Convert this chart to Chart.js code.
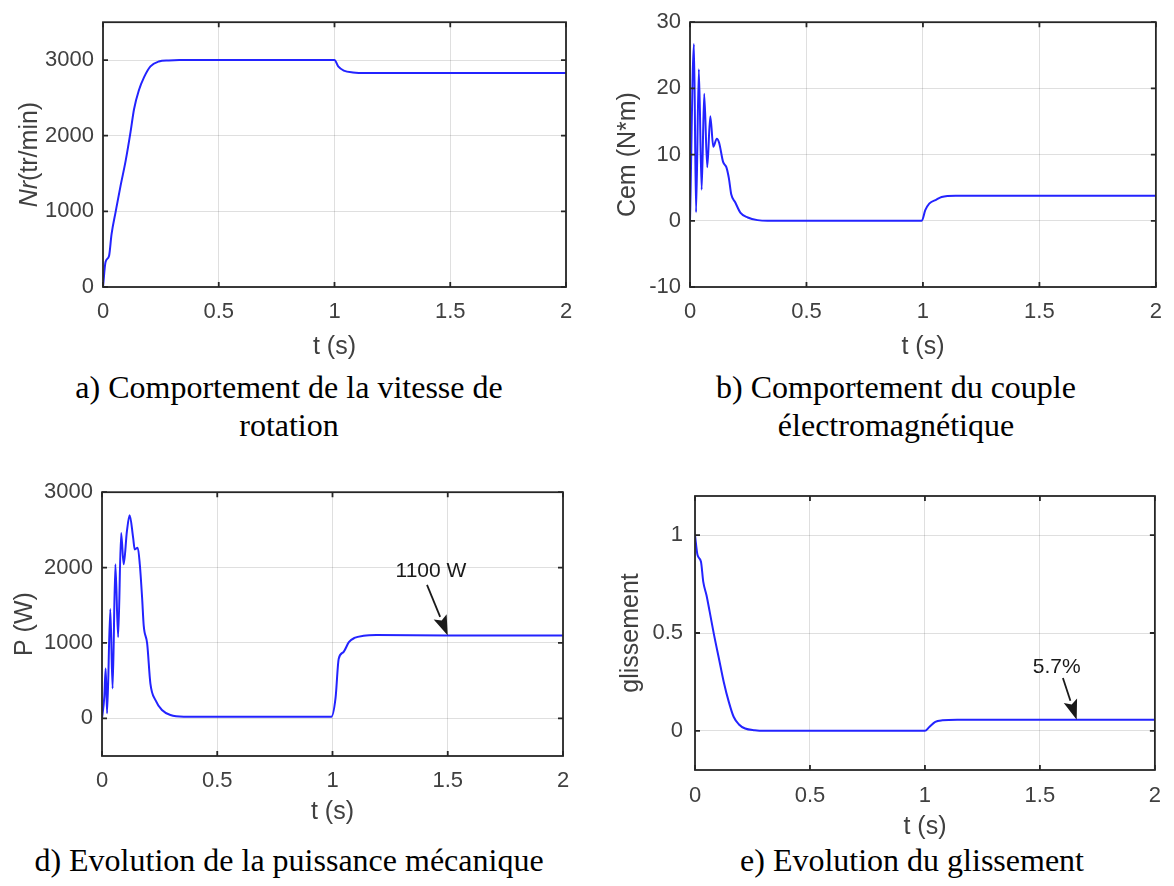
<!DOCTYPE html>
<html>
<head>
<meta charset="utf-8">
<script src="https://cdn.jsdelivr.net/npm/chart.js@4/dist/chart.umd.min.js"></script>
<style>
  body { margin: 0; background: #fff; }
  #page { position: relative; width: 1174px; height: 886px; background: #fff; overflow: hidden; }
  canvas { position: absolute; }
  .cap { position: absolute; font-family: "Liberation Serif", "Times New Roman", serif; font-size: 32px;
         line-height: 38px; color: #000; text-align: center; white-space: nowrap; transform: translateX(-50%); }
</style>
</head>
<body>
<div id="page">
  <canvas id="speedChart" width="587" height="365" style="left:0;top:0"></canvas>
  <canvas id="torqueChart" width="587" height="365" style="left:587px;top:0"></canvas>
  <canvas id="powerChart" width="587" height="360" style="left:0;top:470px"></canvas>
  <canvas id="slipChart" width="587" height="370" style="left:587px;top:470px"></canvas>

  <div class="cap" style="left:289px;top:368px">a) Comportement de la vitesse de<br>rotation</div>
  <div class="cap" style="left:896px;top:368px">b) Comportement du couple<br>électromagnétique</div>
  <div class="cap" style="left:289px;top:841px">d) Evolution de la puissance mécanique</div>
  <div class="cap" style="left:912px;top:841px">e) Evolution du glissement</div>
</div>
<script>
// shared time axis
const timeTicks = [0, 0.5, 1, 1.5, 2];

// a) rotor speed (tr/min)
const speedT = [0, 0.011, 0.026, 0.037, 0.055, 0.076, 0.098, 0.119, 0.134, 0.155, 0.177, 0.205, 0.241, 0.284, 0.33, 0.5, 0.8, 1.0, 1.016, 1.04, 1.08, 1.14, 1.3, 1.6, 2.0];
const speedVal = [0, 330, 410, 700, 1000, 1340, 1670, 2050, 2350, 2600, 2770, 2915, 2980, 2995, 3000, 3000, 3000, 3000, 2915, 2860, 2835, 2828, 2828, 2828, 2828];
const speedTicks = [0, 1000, 2000, 3000];

// b) electromagnetic torque (N*m)
const torqueT = [0, 0.017, 0.026, 0.038, 0.050, 0.061, 0.074, 0.087, 0.100, 0.115, 0.125, 0.142, 0.156, 0.167, 0.177, 0.194, 0.217, 0.248, 0.29, 0.333, 0.6, 0.995, 1.01, 1.027, 1.058, 1.08, 1.14, 1.4, 2.0];
const torqueVal = [0, 26.7, 1.3, 22.9, 4.7, 19.2, 8.1, 15.8, 11.2, 12.4, 11.8, 8.9, 8.1, 6.4, 4.0, 2.8, 1.2, 0.5, 0.1, 0, 0, 0, 1.6, 2.6, 3.2, 3.6, 3.8, 3.8, 3.8];
const torqueTicks = [-10, 0, 10, 20, 30];

// d) mechanical power (W)
const powerT = [0, 0.010, 0.016, 0.022, 0.036, 0.046, 0.058, 0.070, 0.083, 0.094, 0.108, 0.120, 0.135, 0.142, 0.155, 0.164, 0.174, 0.181, 0.196, 0.21, 0.232, 0.26, 0.297, 0.355, 0.6, 0.995, 1.013, 1.027, 1.047, 1.071, 1.095, 1.135, 1.19, 1.5, 2.0];
const powerVal = [0, 285, 660, 66, 1450, 395, 2044, 1077, 2460, 2044, 2480, 2695, 2396, 2240, 2264, 2044, 1600, 1230, 990, 460, 240, 110, 44, 22, 20, 20, 263, 790, 877, 1010, 1066, 1096, 1105, 1100, 1100];
const powerTicks = [0, 1000, 2000, 3000];

// e) slip
const slipT = [0, 0.011, 0.026, 0.036, 0.05, 0.064, 0.083, 0.104, 0.125, 0.147, 0.168, 0.19, 0.218, 0.26, 0.30, 0.6, 1.0, 1.019, 1.045, 1.076, 1.14, 1.5, 2.0];
const slipVal = [1.0, 0.898, 0.864, 0.761, 0.693, 0.608, 0.489, 0.370, 0.250, 0.148, 0.072, 0.034, 0.012, 0.003, 0, 0, 0, 0.02, 0.046, 0.054, 0.057, 0.057, 0.057];
const slipTicks = [0, 0.5, 1];

const INK = '#404040';
const LINE = '#2323ff';
Chart.defaults.font.family = '"Liberation Sans", Arial, Helvetica, sans-serif';
Chart.defaults.color = INK;

// matlab style box with inward ticks
const boxFrame = {
    id: 'boxFrame',
    afterDatasetsDraw(chart) {
        const { ctx, chartArea: a, scales } = chart;
        const x = scales.x, y = scales.y;
        ctx.save();
        ctx.strokeStyle = '#262626';
        ctx.lineWidth = 1.8;
        ctx.strokeRect(a.left, a.top, a.right - a.left, a.bottom - a.top);
        ctx.beginPath();
        for (const t of x.ticks) {
            const px = x.getPixelForValue(t.value);
            ctx.moveTo(px, a.bottom); ctx.lineTo(px, a.bottom - 5);
            ctx.moveTo(px, a.top); ctx.lineTo(px, a.top + 5);
        }
        for (const t of y.ticks) {
            const py = y.getPixelForValue(t.value);
            ctx.moveTo(a.left, py); ctx.lineTo(a.left + 5, py);
            ctx.moveTo(a.right, py); ctx.lineTo(a.right - 5, py);
        }
        ctx.stroke();
        ctx.restore();
    },
};

// text + arrow annotation, positions in data units
const arrowNote = {
    id: 'arrowNote',
    afterDatasetsDraw(chart, args, opts) {
        if (!opts.text) return;
        const { ctx, scales } = chart;
        const x = scales.x, y = scales.y;
        const lx = x.getPixelForValue(opts.label[0]), ly = y.getPixelForValue(opts.label[1]);
        const x0 = x.getPixelForValue(opts.from[0]), y0 = y.getPixelForValue(opts.from[1]);
        const x1 = x.getPixelForValue(opts.to[0]), y1 = y.getPixelForValue(opts.to[1]);
        ctx.save();
        ctx.fillStyle = '#1a1a1a';
        ctx.font = '21px "Liberation Sans", Arial, sans-serif';
        ctx.textAlign = 'center';
        ctx.textBaseline = 'middle';
        ctx.fillText(opts.text, lx, ly);
        const ang = Math.atan2(y1 - y0, x1 - x0);
        const hl = 20, hw = 7;
        const bx = x1 - hl * Math.cos(ang), by = y1 - hl * Math.sin(ang);
        ctx.strokeStyle = '#1a1a1a';
        ctx.lineWidth = 1.8;
        ctx.beginPath();
        ctx.moveTo(x0, y0);
        ctx.lineTo(bx, by);
        ctx.stroke();
        ctx.beginPath();
        ctx.moveTo(x1, y1);
        ctx.lineTo(bx + hw * Math.sin(ang), by - hw * Math.cos(ang));
        ctx.lineTo(bx + 4 * Math.cos(ang), by + 4 * Math.sin(ang));
        ctx.lineTo(bx - hw * Math.sin(ang), by + hw * Math.cos(ang));
        ctx.closePath();
        ctx.fill();
        ctx.restore();
    },
};

// y title with italic "Nr"
const speedTitle = {
    id: 'speedTitle',
    afterDraw(chart) {
        const { ctx, chartArea: a } = chart;
        ctx.save();
        ctx.translate(30, (a.top + a.bottom) / 2);
        ctx.rotate(-Math.PI / 2);
        ctx.fillStyle = INK;
        ctx.textBaseline = 'middle';
        const fItal = 'italic 25px "Liberation Sans", Arial, sans-serif';
        const fNorm = '25px "Liberation Sans", Arial, sans-serif';
        ctx.font = fItal;
        const w1 = ctx.measureText('Nr').width;
        ctx.font = fNorm;
        const w2 = ctx.measureText('(tr/min)').width;
        let sx = -(w1 + w2) / 2;
        ctx.font = fItal;
        ctx.textAlign = 'left';
        ctx.fillText('Nr', sx, 0);
        ctx.font = fNorm;
        ctx.fillText('(tr/min)', sx + w1, 0);
        ctx.restore();
    },
};

const toPoints = (ts, vals) => ts.map((t, i) => ({ x: t, y: vals[i] }));

const makeChart = (id, ts, vals, cfg) => {
    return new Chart(document.getElementById(id), {
        type: 'line',
        data: {
            datasets: [
                {
                    data: toPoints(ts, vals),
                    borderColor: LINE,
                    borderWidth: 2,
                    pointRadius: 0,
                    cubicInterpolationMode: 'monotone',
                    fill: false,
                },
            ],
        },
        options: {
            responsive: false,
            animation: false,
            events: [],
            layout: { padding: { left: 0, right: cfg.padRight, top: cfg.padTop, bottom: 0 } },
            plugins: {
                legend: { display: false },
                tooltip: { enabled: false },
                arrowNote: cfg.note || {},
            },
            scales: {
                x: {
                    type: 'linear',
                    min: 0,
                    max: 2,
                    afterBuildTicks: (s) => { s.ticks = timeTicks.map((v) => ({ value: v })); },
                    afterFit: (s) => { s.height = cfg.xHeight; },
                    grid: { color: 'rgba(38,38,38,0.15)', lineWidth: 1, drawTicks: false },
                    border: { display: false },
                    ticks: { padding: cfg.xTickPad - 1, font: { size: 22 }, color: INK, callback: (v) => String(v), maxRotation: 0 },
                    title: { display: true, text: 't (s)', font: { size: 25, lineHeight: 1 }, color: INK, padding: { top: 0, bottom: cfg.xTitlePad - 0.5 } },
                },
                y: {
                    type: 'linear',
                    min: cfg.yMin,
                    max: cfg.yMax,
                    afterBuildTicks: (s) => { s.ticks = cfg.yTicks.map((v) => ({ value: v })); },
                    afterFit: (s) => { s.width = cfg.yWidth; },
                    grid: { color: 'rgba(38,38,38,0.15)', lineWidth: 1, drawTicks: false },
                    border: { display: false },
                    ticks: { padding: cfg.yTickPad, font: { size: 22 }, color: INK, callback: (v) => String(v) },
                    title: { display: !!cfg.yTitle, text: cfg.yTitle || '', font: { size: 25, lineHeight: 1 }, color: INK, padding: { top: cfg.yTitlePad - 0.5, bottom: 0 } },
                },
            },
        },
        plugins: [boxFrame, arrowNote].concat(cfg.extra || []),
    });
};

makeChart('speedChart', speedT, speedVal, {
    padRight: 21, padTop: 10, xHeight: 78, yWidth: 103,
    xTickPad: 13, xTitlePad: 6, yTickPad: 9,
    yMin: 0, yMax: 3500, yTicks: speedTicks,
    yTitle: '', yTitlePad: 0, extra: [speedTitle],
});

makeChart('torqueChart', torqueT, torqueVal, {
    padRight: 14, padTop: 14, xHeight: 78, yWidth: 103,
    xTickPad: 13, xTitlePad: 6, yTickPad: 9,
    yMin: -10, yMax: 30, yTicks: torqueTicks,
    yTitle: 'Cem (N*m)', yTitlePad: 29,
});

makeChart('powerChart', powerT, powerVal, {
    padRight: 24, padTop: 19, xHeight: 74, yWidth: 102,
    xTickPad: 13, xTitlePad: 6, yTickPad: 9,
    yMin: -500, yMax: 3000, yTicks: powerTicks,
    yTitle: 'P (W)', yTitlePad: 13,
    note: { text: '1100 W', label: [1.427, 1955], from: [1.41, 1770], to: [1.5, 1100] },
});

makeChart('slipChart', slipT, slipVal, {
    padRight: 11, padTop: 26, xHeight: 70, yWidth: 108,
    xTickPad: 14, xTitlePad: 1, yTickPad: 12,
    yMin: -0.2, yMax: 1.2, yTicks: slipTicks,
    yTitle: 'glissement', yTitlePad: 32,
    note: { text: '5.7%', label: [1.573, 0.327], from: [1.6, 0.27], to: [1.66, 0.057] },
});
</script>
</body>
</html>
